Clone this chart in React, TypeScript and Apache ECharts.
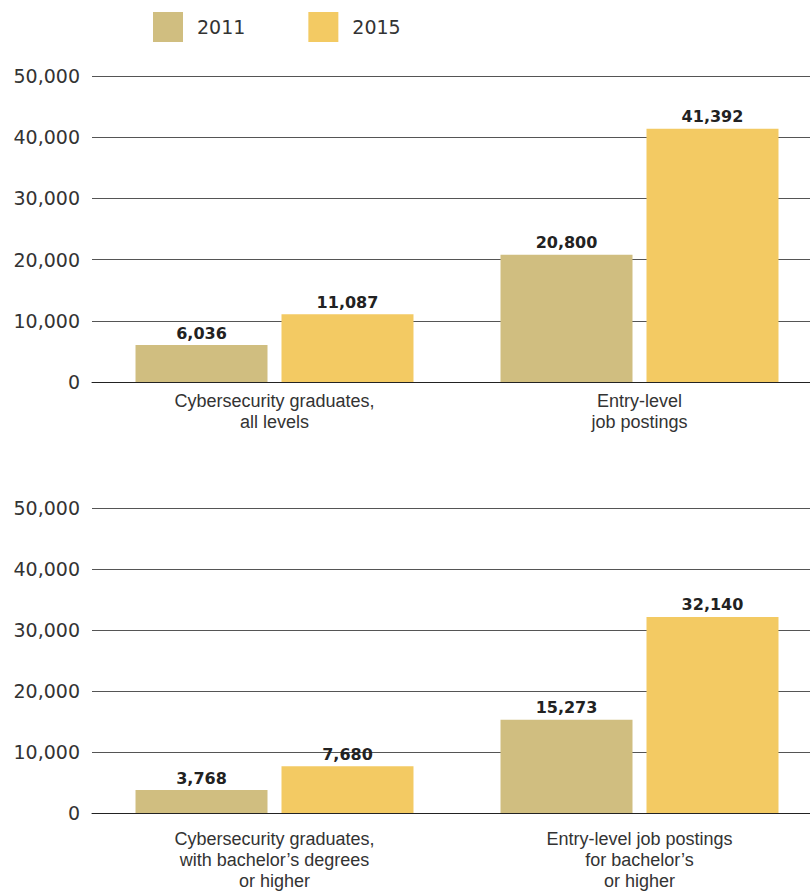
import React, { useEffect, useRef } from "react";
import * as echarts from "echarts";

const topCategories = ["Cybersecurity graduates,\nall levels", "Entry-level\njob postings"];
const bottomCategories = [
  "Cybersecurity graduates,\nwith bachelor’s degrees\nor higher",
  "Entry-level job postings\nfor bachelor’s\nor higher",
];
const top2011 = [6036, 20800];
const top2015 = [11087, 41392];
const bottom2011 = [3768, 15273];
const bottom2015 = [7680, 32140];
const seriesNames = ["2011", "2015"];
const colors = ["#D0BE80", "#F3CA63"];

const numFont = "'DejaVu Sans', sans-serif";
const catFont = "'Liberation Sans', Arial, sans-serif";

export default function App() {
  const ref = useRef<HTMLDivElement>(null);
  useEffect(() => {
    if (!ref.current) return;
    const chart = echarts.init(ref.current, undefined, { renderer: "svg" });
    const yAxisBase = (gridIndex: number) => ({
      type: "value",
      gridIndex,
      min: 0,
      max: 50000,
      interval: 10000,
      axisLine: { show: false },
      axisTick: { show: false },
      axisLabel: {
        color: "#333",
        fontFamily: numFont,
        fontSize: 19,
        margin: 12,
        formatter: (v: number) => v.toLocaleString("en-US"),
      },
      splitLine: { show: true, lineStyle: { color: "#555", width: 1 } },
    });
    const xAxisBase = (gridIndex: number, data: string[], margin: number) => ({
      type: "category",
      gridIndex,
      data,
      axisLine: { show: true, lineStyle: { color: "#222", width: 1 } },
      axisTick: { show: false },
      axisLabel: {
        color: "#333",
        fontFamily: catFont,
        fontSize: 18,
        lineHeight: 21,
        margin,
        interval: 0,
      },
    });
    const barSeries = (name: string, data: number[], idx: number, color: string) => ({
      type: "bar",
      name,
      xAxisIndex: idx,
      yAxisIndex: idx,
      data,
      barWidth: 132,
      barGap: "10.6%",
      itemStyle: { color },
      label: {
        show: true,
        position: "top",
        distance: 4,
        color: "#222",
        fontFamily: numFont,
        fontWeight: "bold",
        fontSize: 16,
        formatter: (p: any) => Number(p.value).toLocaleString("en-US"),
      },
    });
    chart.setOption({
      animation: false,
      backgroundColor: "#fff",
      legend: {
        data: seriesNames,
        left: 148,
        top: 7,
        itemWidth: 30,
        itemHeight: 30,
        itemGap: 63,
        icon: "rect",
        textStyle: {
          color: "#333",
          fontFamily: numFont,
          fontSize: 19,
          padding: [0, 0, 0, 9],
        },
      },
      grid: [
        { left: 92, top: 76, width: 730, height: 306 },
        { left: 92, top: 508, width: 730, height: 306 },
      ],
      xAxis: [xAxisBase(0, topCategories, 8), xAxisBase(1, bottomCategories, 15)],
      yAxis: [yAxisBase(0), yAxisBase(1)],
      series: [
        barSeries(seriesNames[0], top2011, 0, colors[0]),
        barSeries(seriesNames[1], top2015, 0, colors[1]),
        barSeries(seriesNames[0], bottom2011, 1, colors[0]),
        barSeries(seriesNames[1], bottom2015, 1, colors[1]),
      ],
    });
    return () => chart.dispose();
  }, []);
  return (
    <div
      style={{
        width: 810,
        height: 891,
        position: "absolute",
        left: 0,
        top: 0,
        overflow: "hidden",
        background: "#fff",
      }}
    >
      <div ref={ref} style={{ width: 840, height: 891 }} />
    </div>
  );
}
